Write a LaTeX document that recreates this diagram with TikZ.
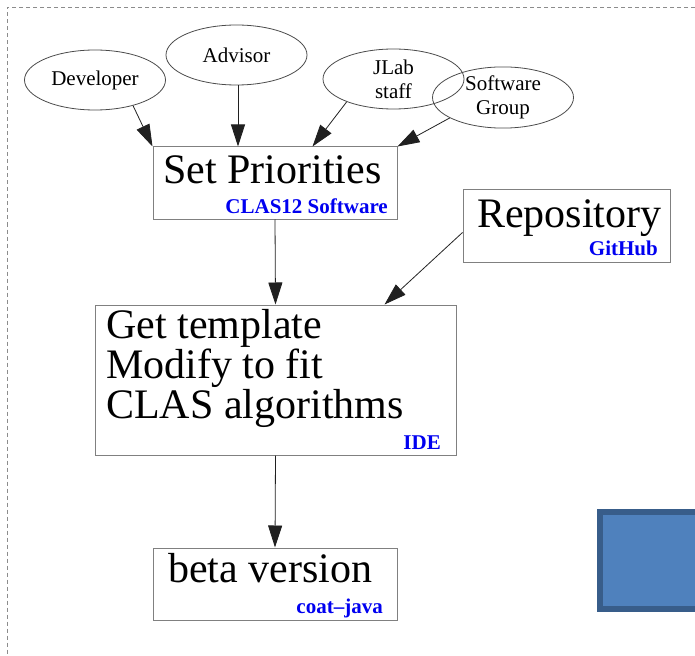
\documentclass[tikz,border=0pt]{standalone}
\usepackage{fontspec}
\setmainfont{Liberation Serif}
\usetikzlibrary{arrows.meta,shapes.geometric}
\definecolor{sqfill}{HTML}{4F81BD}
\definecolor{sqedge}{HTML}{385D8A}
\definecolor{ellc}{HTML}{4A4A4A}
\definecolor{boxc}{HTML}{808080}
\definecolor{arrc}{HTML}{202020}
\definecolor{dashc}{HTML}{8C8C8C}
\definecolor{subblue}{HTML}{0000F0}
\begin{document}
\begin{tikzpicture}[x=1pt,y=-1pt,
  ell/.style={ellipse, draw=ellc, line width=0.8pt, inner sep=0pt,
    minimum width=141pt, minimum height=60pt, align=center,
    font=\fontsize{21}{24}\selectfont},
  box/.style={rectangle, draw=boxc, line width=1pt, inner sep=0pt},
  big/.style={inner sep=0pt, anchor=base west, font=\fontsize{42}{44}\selectfont},
  sub/.style={inner sep=0pt, anchor=base east, text=subblue,
    font=\fontsize{21}{24}\selectfont\bfseries},
  arr/.style={draw=arrc, line width=0.8pt, -{Triangle[length=22pt,width=14pt]}},
  frame/.style={draw=dashc, line width=0.8pt, dash pattern=on 4pt off 3pt}]
\useasboundingbox (0,0) rectangle (695,655);

% dashed frame
\coordinate (ftl) at (7.5,7);
\coordinate (ftr) at (695,7);
\coordinate (fbl) at (7.5,655);
\draw[frame] (ftr) -- (ftl) -- (fbl);

% ellipses
\node[ell] (dev) at (95,80) {Developer};
\node[ell] (adv) at (236.5,55) {Advisor};
\node[ell] (jlab) at (393.5,79) {JLab\\staff};
\node[ell] (sw) at (503,97.5) {Software\\Group};

% boxes
\node[box, minimum width=244pt, minimum height=72pt] (sp) at (275,183) {};
\node[box, minimum width=207pt, minimum height=73pt] (repo) at (566.5,225.5) {};
\node[box, minimum width=361pt, minimum height=150pt] (gt) at (275.5,380) {};
\node[box, minimum width=244pt, minimum height=72pt] (beta) at (275,584) {};

% texts
\node[big] (spt) at (163,183) {Set Priorities};
\node[sub] (sps) at (388,213) {CLAS12 Software};
\node[big] (rpt) at (477,227) {Repository};
\node[sub] (rps) at (658,255) {GitHub};
\node[big] (gt1) at (106,338) {Get template};
\node[big] (gt2) at (106,378) {Modify to fit};
\node[big] (gt3) at (106,418) {CLAS algorithms};
\node[sub] (gts) at (441,449) {IDE};
\node[big] (btt) at (168,582) {beta version};
\node[sub] (bts) at (383,613) {coat–java};

% connectors
\draw[arr] (dev.-34) -- (sp.north west);
\draw[arr] ([xshift=1.5pt]adv.south) -- ([xshift=1.5pt]adv.south |- sp.north);
\draw[arr] (jlab.-154) -- ([xshift=160pt]sp.north west);
\draw[arr] (sw.-159) -- (sp.north east);
\draw[arr] (sp.south) -- (gt.north);
\draw[arr] ([yshift=-7pt]repo.west) -- ([xshift=290pt]gt.north west);
\draw[arr] (gt.south) -- (beta.north);

% blue square
\node[rectangle, fill=sqfill, draw=sqedge, line width=6pt, inner sep=0pt,
  minimum width=100pt, minimum height=97pt] (sq) at (650,560.5) {};
\end{tikzpicture}
\end{document}
